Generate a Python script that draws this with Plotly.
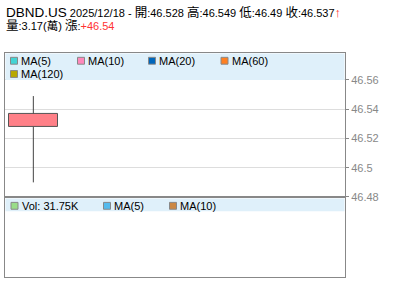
import plotly.graph_objects as go

# ---- data ----
symbol = "DBND.US"
dates = ["2025/12/18"]
open_ = [46.528]
high = [46.549]
low = [46.49]
close = [46.537]
volume_wan = [3.17]
volume_k = ["31.75K"]
change = [46.54]

ma_labels = ["MA(5)", "MA(10)", "MA(20)", "MA(60)", "MA(120)"]
ma_colors = ["#44d4d4", "#ff88bb", "#0066bb", "#ff8022", "#b8a800"]
vol_labels = ["Vol: " + volume_k[0], "MA(5)", "MA(10)"]
vol_colors = ["#99dd88", "#55bbee", "#cc8844"]

y_ticks = [46.48, 46.5, 46.52, 46.54, 46.56]
y_ticktext = ["46.48", "46.5", "46.52", "46.54", "46.56"]
y_range = [46.48, 46.5785]

W, H = 400, 301
def px(x):
    return x / W
def py(y):
    return 1 - y / H

fig = go.Figure()

# wick (split around body)
xs = list(range(len(dates)))
wx, wy = [], []
for i in xs:
    top = max(open_[i], close[i])
    bot = min(open_[i], close[i])
    wx += [i, i, None, i, i, None]
    wy += [high[i], top, None, bot, low[i], None]
fig.add_trace(go.Scatter(x=wx, y=wy, mode="lines", line=dict(color="#444444", width=1),
                         hoverinfo="skip", showlegend=False, xaxis="x", yaxis="y"))
# body
fig.add_trace(go.Bar(x=xs, y=[c - o for o, c in zip(open_, close)], base=open_, width=0.875,
                     marker=dict(color="#ff8088", line=dict(color="#555555", width=1)),
                     showlegend=False, xaxis="x", yaxis="y"))

# empty volume panel trace to host axes
fig.add_trace(go.Scatter(x=[], y=[], xaxis="x2", yaxis="y2", showlegend=False))

main_dom = [py(201), py(54)]
vol_dom = [py(282.5), py(201)]
x_dom = [px(5), px(345)]

fig.update_layout(
    width=W, height=H, margin=dict(l=0, r=0, t=0, b=0),
    paper_bgcolor="white", plot_bgcolor="white",
    font=dict(family="Liberation Sans, Arial, Noto Sans CJK TC", size=11, color="#000"),
    showlegend=False, bargap=0,
    xaxis=dict(domain=x_dom, range=[-0.5, 5.5], showticklabels=False, showgrid=False,
               zeroline=False, showline=True, mirror=True, linecolor="#888", linewidth=1,
               ticks="", fixedrange=True),
    yaxis=dict(domain=main_dom, range=y_range, side="right", tickvals=y_ticks,
               ticktext=y_ticktext, ticks="outside", ticklen=3, tickcolor="#888",
               tickfont=dict(size=11, color="#888", family="Liberation Sans, Arial"),
               showgrid=True, gridcolor="#dddddd", gridwidth=1, zeroline=False,
               showline=True, mirror=True, linecolor="#888", linewidth=1),
    xaxis2=dict(domain=x_dom, anchor="y2", range=[-0.5, 5.5], showticklabels=False,
                showgrid=False, zeroline=False, showline=True, mirror=True,
                linecolor="#888", linewidth=1, ticks=""),
    yaxis2=dict(domain=vol_dom, anchor="x2", range=[0, 1], showticklabels=False,
                showgrid=False, zeroline=False, showline=True, mirror=True,
                linecolor="#888", linewidth=1, ticks=""),
)

shapes = []
annotations = []
band = "#dff0fa"
# legend bands
shapes.append(dict(type="rect", xref="paper", yref="paper", x0=px(5.5), x1=px(344.5),
                   y0=py(81.5), y1=py(54.5), fillcolor=band, line=dict(width=0), layer="above"))
shapes.append(dict(type="rect", xref="paper", yref="paper", x0=px(5.5), x1=px(344.5),
                   y0=py(215.5), y1=py(202.5), fillcolor=band, line=dict(width=0), layer="above"))
# divider
shapes.append(dict(type="line", xref="paper", yref="paper", x0=px(5), x1=px(345),
                   y0=py(201), y1=py(201), line=dict(color="#888", width=2), layer="above"))

def legend_item(x_sq, x_txt, yc, color, label):
    shapes.append(dict(type="rect", xref="paper", yref="paper",
                       x0=px(x_sq), x1=px(x_sq + 7), y0=py(yc + 3.5), y1=py(yc - 3.5),
                       fillcolor=color, line=dict(color="#888", width=1), layer="above"))
    annotations.append(dict(xref="paper", yref="paper", x=px(x_txt), y=py(yc), text=label,
                            showarrow=False, xanchor="left", yanchor="middle",
                            font=dict(size=11, color="#000"), borderpad=0))

ma_pos = [(10.5, 20), (77.5, 87), (148.5, 158), (221, 230.5), (10.5, 20)]
ma_rows = [62, 62, 62, 62, 75.5]
for (sx, tx), yc, c, lab in zip(ma_pos, ma_rows, ma_colors, ma_labels):
    legend_item(sx, tx, yc, c, lab)

vol_pos = [(11, 20.5), (103.5, 113), (169.5, 179)]
for (sx, tx), c, lab in zip(vol_pos, vol_colors, vol_labels):
    legend_item(sx, tx, 210, c, lab)

# title (two lines in one block)
def s(t, size=11, color=None):
    st = f"font-size:{size}px"
    if color:
        st += f";color:{color}"
    return f"<span style='{st}'>{t}</span>"

line1 = (s(symbol, 13.5) + s(f" {dates[0]} - ") + s("開", 12.5) + s(f":{open_[0]:g} ")
         + s("高", 12.5) + s(f":{high[0]:g} ") + s("低", 12.5) + s(f":{low[0]:g} ")
         + s("收", 12.5) + s(f":{close[0]:g}") + s("<b>↑</b>", 13, "#ff2222"))
line2 = (s("量", 12.5) + s(f":{volume_wan[0]:g}(") + s("萬", 11.5) + s(") ")
         + s("漲", 12.5) + s(":") + s(f"+{change[0]:g}", 11, "#ff3333"))
annotations.append(dict(xref="paper", yref="paper", x=px(4.5), y=py(19.5),
                        text=line1 + "<br>" + line2, align="left",
                        showarrow=False, xanchor="left", yanchor="middle",
                        font=dict(size=10, color="#000"), borderpad=0))

fig.update_layout(shapes=shapes, annotations=annotations)
fig.write_html("out.html")
